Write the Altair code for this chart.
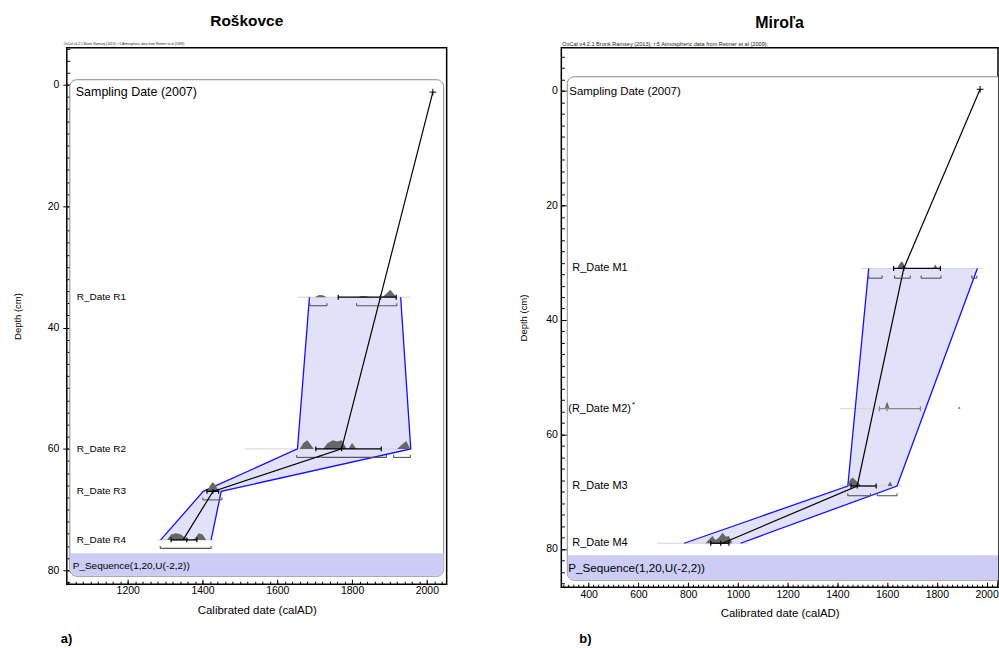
import altair as alt
import pandas as pd

FONT = "Liberation Sans"
ENV_FILL = "#e1e1fa"
ENV_EDGE = "#1010ff"
SEQ_FILL = "#ccccf4"
HUMP = "#666666"
DATE_LINE = "#d4d4d4"
BRACKET = "#555555"

OXCAL_NOTE = "OxCal v4.2.1 Bronk Ramsey (2013); r:5 Atmospheric data from Reimer et al (2009);"
SEQ_LABEL = "P_Sequence(1,20,U(-2,2))"
TOP_LABEL = "Sampling Date (2007)"

# ---------------- Roškovce ----------------
ros_dates = ["R_Date R1", "R_Date R2", "R_Date R3", "R_Date R4"]
ros_depth = [35, 60, 67, 75]
ros_excluded = [False, False, False, False]
# modelled age envelope (calAD) at the dated levels
ros_env_depth = [35, 60, 67, 75]
ros_env_lo = [1686, 1654, 1402, 1288]
ros_env_hi = [1930, 1957, 1450, 1423]
# model mean: sampling date, then the levels it bends at
ros_mean_year = [2016, 1772, 1428, 1348]
ros_mean_depth = [1.2, 60, 67, 75]
# faint baseline under each distribution
ros_line_lo = [1654, 1513, 1395, 1280]
ros_line_hi = [1957, 1957, 1455, 1430]
# 68.2 % range with its median tick
ros_bar_lo = [1763, 1703, 1412, 1316]
ros_bar_mid = [1876, 1772, 1428, 1358]
ros_bar_hi = [1918, 1878, 1443, 1385]
# 95.4 % ranges: date index, from, to
ros_rng_idx = [0, 0, 1, 1, 1, 2, 3]
ros_rng_lo = [1687, 1812, 1652, 1717, 1911, 1401, 1287]
ros_rng_hi = [1733, 1920, 1714, 1892, 1956, 1452, 1423]
# posterior distributions (calAD, relative height)
ros_r1_year = [1700, 1712, 1722, 1732, 1815, 1826, 1838, 1848, 1880, 1893, 1902, 1912, 1920]
ros_r1_dens = [0, 0.35, 0.3, 0, 0, 0.2, 0.15, 0, 0, 0.6, 1.1, 0.45, 0]
ros_r2_year = [1660, 1670, 1680, 1690, 1698, 1722, 1735, 1749, 1760, 1772, 1786, 1790, 1800, 1812,
               1920, 1932, 1945, 1956]
ros_r2_dens = [0, 0.9, 1.3, 0.6, 0, 0, 0.9, 1.3, 1.1, 1.3, 0, 0, 0.9, 0, 0, 0.6, 1.2, 0]
ros_r3_year = [1412, 1420, 1428, 1436, 1444]
ros_r3_dens = [0, 0.9, 1.4, 0.8, 0]
ros_r4_year = [1305, 1316, 1328, 1340, 1352, 1360, 1376, 1390, 1400, 1410]
ros_r4_dens = [0, 0.8, 1.0, 0.9, 0.4, 0, 0, 1.0, 0.8, 0]

# ---------------- Miroľa ----------------
mir_dates = ["R_Date M1", "(R_Date M2)", "R_Date M3", "R_Date M4"]
mir_depth = [31, 55.5, 69, 79]
mir_excluded = [False, True, False, False]
mir_env_depth = [31, 69, 79]
mir_env_lo = [1526, 1442, 784]
mir_env_hi = [1963, 1640, 1011]
mir_mean_year = [1974, 1667, 1480, 938]
mir_mean_depth = [-0.3, 31, 69, 79]
mir_line_lo = [1500, 1412, 1408, 677]
mir_line_hi = [1985, 1745, 1660, 1042]
mir_bar_lo = [1626, 1569, 1455, 891]
mir_bar_mid = [1667, 1600, 1480, 931]
mir_bar_hi = [1814, 1734, 1556, 964]
mir_rng_idx = [0, 0, 0, 0, 2, 2]
mir_rng_lo = [1526, 1630, 1737, 1941, 1442, 1560]
mir_rng_hi = [1580, 1693, 1817, 1961, 1533, 1640]
mir_m1_year = [1640, 1652, 1660, 1668, 1676, 1785, 1794, 1803]
mir_m1_dens = [0, 0.8, 1.1, 0.6, 0, 0, 0.6, 0]
mir_m2_year = [1590, 1600, 1610, 1885, 1890, 1895]
mir_m2_dens = [0, 1.1, 0, 0, 0.35, 0]
mir_m3_year = [1440, 1452, 1462, 1472, 1484, 1496, 1602, 1612, 1622]
mir_m3_dens = [0, 1.0, 1.3, 0.9, 0.5, 0, 0, 0.7, 0]
mir_m4_year = [870, 885, 898, 910, 922, 938, 952, 964, 978]
mir_m4_dens = [0, 0.6, 1.1, 0.5, 0.8, 1.6, 1.0, 1.1, 0]


def hump_frame(dates, depths, years, dens):
    rows = []
    for name, d, ys, ps in zip(dates, depths, years, dens):
        for y, p in zip(ys, ps):
            rows.append({"date": name, "depth": d, "year": y, "dens": p})
    return pd.DataFrame(rows)


def panel(cfg):
    w, h = cfg["w"], cfg["h"]
    xs = alt.Scale(domain=cfg["xdom"], nice=False, zero=False)
    ys = alt.Scale(domain=cfg["ydom"], reverse=True, nice=False, zero=False)

    def X(f, axis=None):
        return alt.X(f, type="quantitative", scale=xs, axis=axis)

    def Y(f, axis=None):
        return alt.Y(f, type="quantitative", scale=ys, axis=axis)

    blank = alt.Chart(alt.Data(values=[{}]))
    bx = cfg["box"]

    # rounded model box and the sequence band at its foot
    box = blank.mark_rect(cornerRadius=7, fill="white", stroke="#8c8c8c",
                          strokeWidth=1, clip=True).encode(
        x=alt.value(bx[0]), x2=alt.value(bx[1]), y=alt.value(bx[2]), y2=alt.value(bx[3]))
    band = blank.mark_rect(fill=SEQ_FILL, cornerRadiusBottomLeft=7,
                           cornerRadiusBottomRight=7, clip=True).encode(
        x=alt.value(bx[0] + 0.5), x2=alt.value(bx[1]), y=alt.value(cfg["band_top"]),
        y2=alt.value(bx[3] - 0.5))

    dates = cfg["dates"]
    depth = cfg["depth"]

    env = pd.DataFrame({"depth": cfg["env_depth"], "lo": cfg["env_lo"], "hi": cfg["env_hi"]})
    env_area = alt.Chart(env).mark_area(orient="horizontal", color=ENV_FILL, opacity=1).encode(
        y=Y("depth", alt.Axis(orient="left", values=cfg["y_minor"], offset=-3, tickSize=3,
                              labels=False, title=None)),
        x=X("lo", alt.Axis(orient="bottom", values=cfg["x_minor"], offset=-3, tickSize=3,
                           labels=False, title=None)),
        x2="hi")
    env_lo = alt.Chart(env).mark_line(color=ENV_EDGE, strokeWidth=1.3).encode(
        x=X("lo"), y=Y("depth"), order="depth:Q")
    env_hi = alt.Chart(env).mark_line(color=ENV_EDGE, strokeWidth=1.3).encode(
        x=X("hi"), y=Y("depth"), order="depth:Q")

    lines = pd.DataFrame({"depth": depth, "lo": cfg["line_lo"], "hi": cfg["line_hi"]})
    date_lines = alt.Chart(lines).mark_rule(color=DATE_LINE, strokeWidth=1).encode(
        x=X("lo", alt.Axis(orient="bottom", values=cfg["x_major"], format="d",
                           offset=cfg["x_off"], tickSize=cfg["x_tick"], labelPadding=cfg["x_lpad"],
                           title="Calibrated date (calAD)", titlePadding=cfg["x_tpad"])),
        x2="hi",
        y=Y("depth", alt.Axis(orient="left", values=[0, 20, 40, 60, 80], format="d",
                              offset=cfg["y_off"], tickSize=cfg["y_tick"], labelPadding=4,
                              title="Depth (cm)", titleFontSize=9.5,
                              titlePadding=cfg["y_tpad"])))

    humps_df = hump_frame(dates, depth, cfg["hump_year"], cfg["hump_dens"])
    humps = alt.Chart(humps_df).transform_calculate(
        top=f"datum.depth - datum.dens * {cfg['hump_cm']}"
    ).mark_area(color=HUMP, opacity=1).encode(
        x=X("year"), y=Y("top:Q"), y2="depth:Q", detail="date:N")

    t = cfg["tick_cm"]
    rng = pd.DataFrame({
        "depth": [depth[i] + cfg["rng_cm"] for i in cfg["rng_idx"]],
        "lo": cfg["rng_lo"], "hi": cfg["rng_hi"]})
    rng_rule = alt.Chart(rng).mark_rule(color=BRACKET, strokeWidth=1.1).encode(
        x=X("lo"), x2="hi", y=Y("depth"))
    rng_ends = alt.Chart(rng).transform_fold(["lo", "hi"], as_=["end", "year"]).transform_calculate(
        a=f"datum.depth - {t}", b="datum.depth"
    ).mark_rule(color=BRACKET, strokeWidth=1.1).encode(x=X("year:Q"), y=Y("a:Q"), y2="b:Q")

    bars = pd.DataFrame({"depth": depth, "lo": cfg["bar_lo"], "mid": cfg["bar_mid"],
                         "hi": cfg["bar_hi"], "excluded": cfg["excluded"]})
    bar_color = alt.condition("datum.excluded", alt.value("#8a8a8a"), alt.value("black"))
    bar_rule = alt.Chart(bars).mark_rule(strokeWidth=1.3).encode(
        x=X("lo"), x2="hi", y=Y("depth"), color=bar_color)
    bar_ticks = alt.Chart(bars).transform_fold(["lo", "mid", "hi"], as_=["end", "year"]).transform_calculate(
        a=f"datum.depth - {t}", b=f"datum.depth + {t}"
    ).mark_rule(strokeWidth=1.2).encode(x=X("year:Q"), y=Y("a:Q"), y2="b:Q", color=bar_color)

    mean = pd.DataFrame({"year": cfg["mean_year"], "depth": cfg["mean_depth"]})
    mean_line = alt.Chart(mean).mark_line(color="black", strokeWidth=1.2).encode(
        x=X("year"), y=Y("depth"), order="depth:Q")
    cross = alt.Chart(mean.head(1)).mark_point(
        shape="M-1,0L1,0M0,-1L0,1", size=45, filled=False, color="black", strokeWidth=1,
        opacity=1).encode(x=X("year"), y=Y("depth"))

    # bracketed (rejected) dates sit a little further left
    labels = pd.DataFrame({"label": dates, "depth": depth})
    date_text = alt.Chart(labels).transform_calculate(
        px=f"substring(datum.label, 0, 1) == '(' ? {cfg['label_x'] - 4} : {cfg['label_x']}"
    ).mark_text(
        align="left", baseline="middle", font=FONT, fontSize=cfg["label_fs"], color="black"
    ).encode(x=alt.X("px:Q", scale=None), y=Y("depth"), text="label:N")
    top_text = alt.Chart(mean.head(1)).mark_text(
        align="left", baseline="middle", font=FONT, fontSize=cfg["top_fs"], color="black",
        dy=cfg["top_dy"]).encode(x=alt.value(cfg["top_x"]), y=Y("depth"), text=alt.value(TOP_LABEL))
    seq_text = blank.mark_text(align="left", baseline="middle", font=FONT,
                               fontSize=cfg["seq_fs"], color="black").encode(
        x=alt.value(cfg["seq_x"]), y=alt.value(cfg["seq_y"]), text=alt.value(SEQ_LABEL))
    note_text = blank.mark_text(align="left", baseline="middle", font=FONT,
                                fontSize=cfg["note_fs"], color="#222222").encode(
        x=alt.value(cfg["note_x"]), y=alt.value(-4), text=alt.value(OXCAL_NOTE))
    letter = blank.mark_text(align="left", baseline="middle", font=FONT, fontSize=13,
                             fontWeight="bold", color="black").encode(
        x=alt.value(cfg["letter_x"]), y=alt.value(cfg["letter_y"]), text=alt.value(cfg["letter"]))

    layers = [box, band, env_area, date_lines, env_lo, env_hi, humps, rng_rule, rng_ends,
              bar_rule, bar_ticks, mean_line, cross, date_text, top_text, seq_text, note_text,
              letter] + cfg.get("extra", [])
    return alt.layer(*layers).resolve_axis(x="independent", y="independent").properties(
        width=w, height=h,
        title=alt.TitleParams(cfg["title"], font=FONT, fontSize=cfg["title_fs"],
                              fontWeight="bold", color="black", anchor="middle",
                              dx=cfg["title_dx"], offset=cfg["title_off"]))


left_cfg = dict(
    title="Roškovce", title_fs=15.5, title_dx=-10, title_off=12,
    w=381, h=538, xdom=[1037, 2053], ydom=[-6.1, 82.3],
    box=[3, 378, 32, 530], band_top=507,
    dates=ros_dates, depth=ros_depth, excluded=ros_excluded,
    env_depth=ros_env_depth, env_lo=ros_env_lo, env_hi=ros_env_hi,
    mean_year=ros_mean_year, mean_depth=ros_mean_depth,
    line_lo=ros_line_lo, line_hi=ros_line_hi,
    bar_lo=ros_bar_lo, bar_mid=ros_bar_mid, bar_hi=ros_bar_hi,
    rng_idx=ros_rng_idx, rng_lo=ros_rng_lo, rng_hi=ros_rng_hi, rng_cm=1.4,
    hump_year=[ros_r1_year, ros_r2_year, ros_r3_year, ros_r4_year],
    hump_dens=[ros_r1_dens, ros_r2_dens, ros_r3_dens, ros_r4_dens],
    hump_cm=1.1, tick_cm=0.4,
    x_major=[1200, 1400, 1600, 1800, 2000], x_minor=list(range(1040, 2051, 20)),
    y_minor=list(range(-6, 83, 2)),
    x_off=-5, x_tick=5, x_lpad=1, x_tpad=9,
    y_off=-3, y_tick=7, y_tpad=25,
    label_fs=10, label_x=10, top_fs=12.5, top_x=9, top_dy=0,
    seq_fs=10, seq_x=6, seq_y=520,
    note_fs=3.3, note_x=-3, letter="a)", letter_x=-6, letter_y=593,
)

asterisk = alt.Chart(alt.Data(values=[{}])).mark_text(
    align="left", baseline="middle", font=FONT, fontSize=8, color="black").encode(
    x=alt.value(71), y=alt.value(358), text=alt.value("*"))

right_cfg = dict(
    title="Miroľa", title_fs=16, title_dx=0, title_off=11,
    w=438, h=541, xdom=[290, 2046], ydom=[-7.54, 86.68],
    box=[6, 460, 29, 534], band_top=509,
    dates=mir_dates, depth=mir_depth, excluded=mir_excluded,
    env_depth=mir_env_depth, env_lo=mir_env_lo, env_hi=mir_env_hi,
    mean_year=mir_mean_year, mean_depth=mir_mean_depth,
    line_lo=mir_line_lo, line_hi=mir_line_hi,
    bar_lo=mir_bar_lo, bar_mid=mir_bar_mid, bar_hi=mir_bar_hi,
    rng_idx=mir_rng_idx, rng_lo=mir_rng_lo, rng_hi=mir_rng_hi, rng_cm=1.7,
    hump_year=[mir_m1_year, mir_m2_year, mir_m3_year, mir_m4_year],
    hump_dens=[mir_m1_dens, mir_m2_dens, mir_m3_dens, mir_m4_dens],
    hump_cm=1.15, tick_cm=0.45,
    x_major=[400, 600, 800, 1000, 1200, 1400, 1600, 1800, 2000],
    x_minor=list(range(300, 2041, 20)),
    y_minor=list(range(-6, 87, 2)),
    x_off=-5, x_tick=5, x_lpad=2, x_tpad=8,
    y_off=-5, y_tick=5, y_tpad=17,
    label_fs=11, label_x=11, top_fs=11.5, top_x=8, top_dy=3,
    seq_fs=11.7, seq_x=7, seq_y=522,
    note_fs=5.6, note_x=1, letter="b)", letter_x=18, letter_y=593,
    extra=[asterisk],
)

chart = alt.hconcat(panel(left_cfg), panel(right_cfg), spacing=70).properties(
    padding={"left": 11, "top": 12, "right": 0, "bottom": 0},
    background="white",
).configure_view(
    stroke="black", strokeWidth=1.5
).configure_axis(
    labelFont=FONT, titleFont=FONT, labelColor="black", titleColor="black",
    tickColor="black", domain=False, grid=False, labelFontSize=10.5, titleFontSize=11.5,
    titleFontWeight="normal", tickWidth=1,
)

chart.save("out.html", embed_options={"renderer": "svg", "actions": False})
